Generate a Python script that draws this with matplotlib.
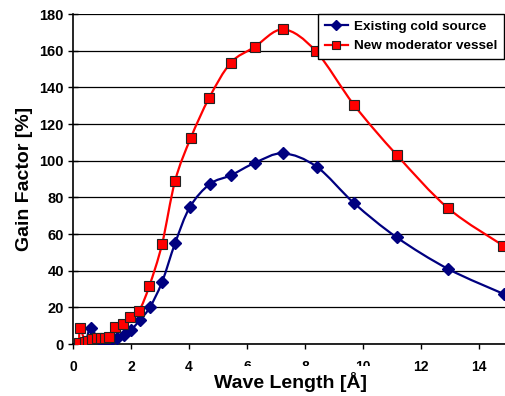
import numpy as np
import matplotlib
matplotlib.use("Agg")
import matplotlib.pyplot as plt
from matplotlib.path import Path
from matplotlib.patches import PathPatch

# data
blue_x = [0.22, 0.42, 0.61, 0.95, 1.10, 1.30, 1.50, 1.75, 2.00, 2.30, 2.65, 3.07, 3.52,
          4.03, 4.72, 5.44, 6.28, 7.25, 8.40, 9.70, 11.16, 12.94, 14.85]
blue_y = [-0.5, 0.0, 8.7, -0.5, 0.5, 2.0, 3.5, 5.0, 7.6, 13.0, 20.0, 33.8, 55.0,
          74.7, 87.3, 92.0, 98.9, 104.0, 96.7, 76.7, 58.2, 40.9, 27.3]

red_x = [0.21, 0.24, 0.42, 0.53, 0.64, 0.82, 0.97, 1.10, 1.25, 1.46, 1.71, 1.97, 2.28,
         2.63, 3.07, 3.52, 4.06, 4.70, 5.44, 6.26, 7.25, 8.37, 9.69, 11.17, 12.94, 14.84]
red_y = [0.4, 8.7, 1.0, 1.5, 2.5, 3.5, 3.5, 3.5, 4.0, 9.1, 11.1, 14.5, 18.2,
         31.6, 54.5, 89.0, 112.4, 134.4, 153.4, 162.0, 171.6, 159.8, 130.4, 103.0, 74.0, 53.6]

x_ticks = [0, 2, 4, 6, 8, 10, 12, 14]
y_ticks = [0, 20, 40, 60, 80, 100, 120, 140, 160, 180]

BLUE = "#000080"
RED = "#ff0000"

plt.rcParams["font.family"] = ["Liberation Sans", "DejaVu Sans"]
plt.rcParams["font.weight"] = "bold"


def smooth_path(xs, ys):
    # excel-like smoothed line: cubic bezier through the points
    p = np.column_stack([xs, ys])
    verts = [p[0]]
    codes = [Path.MOVETO]
    n = len(p)
    for i in range(n - 1):
        p0 = p[i - 1] if i > 0 else p[i]
        p3 = p[i + 2] if i + 2 < n else p[i + 1]
        c1 = p[i] + (p[i + 1] - p0) / 6.0
        c2 = p[i + 1] - (p3 - p[i]) / 6.0
        verts += [c1, c2, p[i + 1]]
        codes += [Path.CURVE4] * 3
    return Path(verts, codes)


fig = plt.figure(figsize=(5.06, 3.96), dpi=100)
ax = fig.add_axes([0.1443, 0.1313, 0.8597, 0.8333])

ax.add_patch(PathPatch(smooth_path(blue_x, blue_y), fill=False, edgecolor=BLUE, lw=1.6, zorder=3))
ax.add_patch(PathPatch(smooth_path(red_x, red_y), fill=False, edgecolor=RED, lw=1.6, zorder=3))
ax.plot(blue_x, blue_y, ls="none", marker="D", ms=6.3, color=BLUE, mec=BLUE, zorder=4)
ax.plot(red_x, red_y, ls="none", marker="s", ms=6.5, color=RED, mec="#222222", mew=0.8, zorder=5)

# legend proxies
ax.plot([], [], color=BLUE, lw=1.6, marker="D", ms=5, label="Existing cold source")
ax.plot([], [], color=RED, lw=1.6, marker="s", mec="#222222", mew=0.8, ms=5.5, label="New moderator vessel")

ax.set_xlim(0, 15)
ax.set_ylim(0, 180)
ax.set_xticks(x_ticks)
ax.set_yticks(y_ticks)
ax.grid(axis="y", color="black", lw=0.9)
ax.set_axisbelow(True)
for s in ["top", "right"]:
    ax.spines[s].set_visible(False)
ax.spines["left"].set_linewidth(1.2)
ax.spines["bottom"].set_linewidth(1.2)
ax.tick_params(axis="x", direction="out", length=3.5, width=1, labelsize=10, pad=8)
ax.tick_params(axis="y", direction="inout", length=7, width=1, labelsize=10.5, pad=3)
for lab in ax.get_xticklabels() + ax.get_yticklabels():
    lab.set_fontweight("bold")

ax.set_xlabel("Wave Length [Å]", fontsize=14, fontweight="bold", labelpad=-1.5,
              bbox=dict(boxstyle="square,pad=0.3", fc="white", ec="none"))
ax.set_ylabel("Gain Factor [%]", fontsize=14, fontweight="bold", labelpad=5)

leg = ax.legend(loc="upper right", bbox_to_anchor=(0.99, 1.0), fontsize=9.7, frameon=True,
                fancybox=False, shadow=False, borderpad=0.5, handlelength=1.7,
                labelspacing=0.5, handletextpad=0.45, borderaxespad=0.0)
leg.get_frame().set_edgecolor("black")
leg.get_frame().set_linewidth(1.0)
leg.get_frame().set_alpha(1.0)
leg.set_zorder(10)
for t in leg.get_texts():
    t.set_fontweight("bold")

fig.savefig("out.png", dpi=100)
